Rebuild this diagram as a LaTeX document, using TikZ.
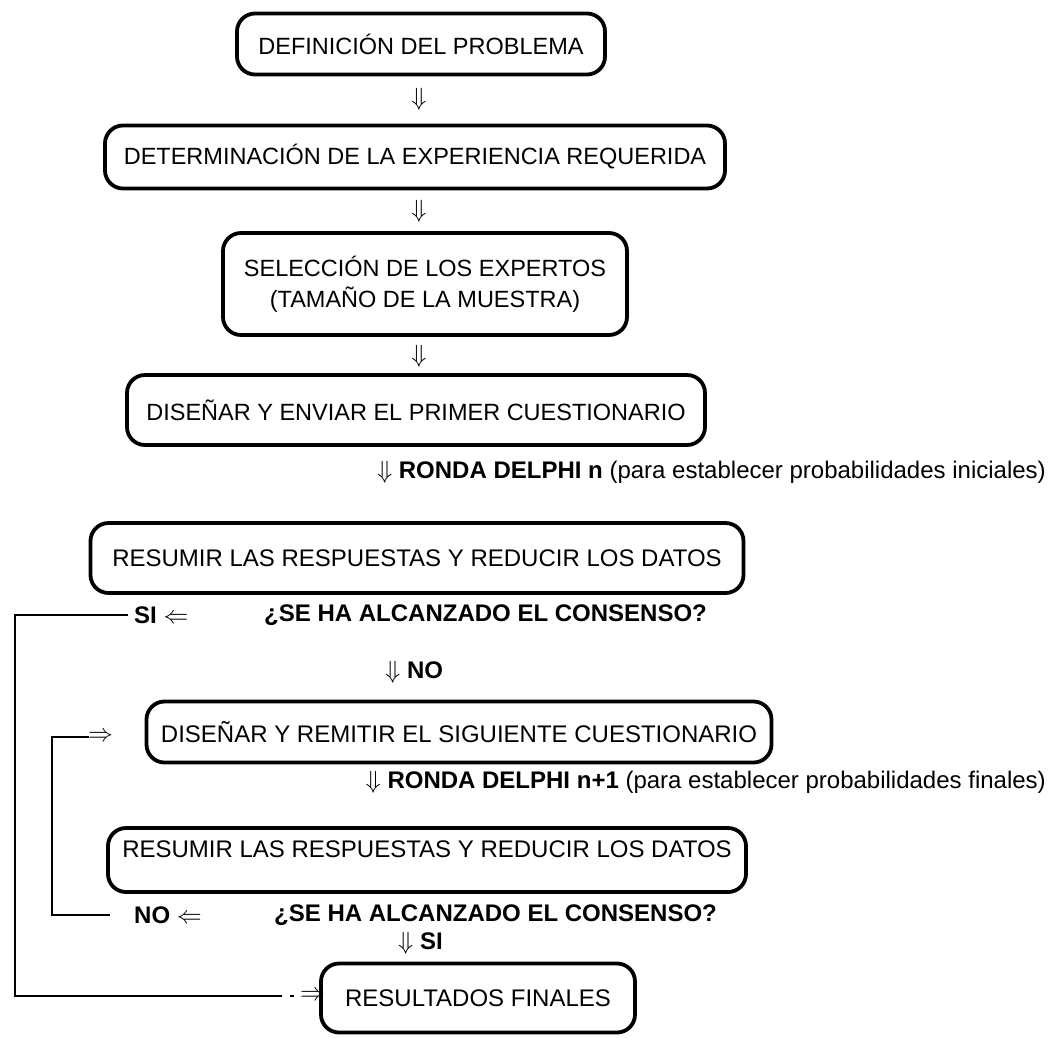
\documentclass[tikz,border=0pt]{standalone}
\usepackage{fontspec}
\setmainfont{Liberation Sans}
\begin{document}
\begin{tikzpicture}[x=1pt,y=-1pt,
  box/.style={draw, line width=3.8pt, rounded corners=18pt, align=center, inner sep=0pt},
  up/.style={font=\fontsize{23.5}{31}\selectfont},
  lo/.style={font=\fontsize{24}{28}\selectfont},
  lbl/.style={inner sep=0pt, font=\fontsize{24}{28}\selectfont},
  conn/.style={line width=1.4pt}]
\useasboundingbox (0,0) rectangle (1059,1037);
% upper column
\node[box,up,minimum width=368,minimum height=61] (b1) at (421,44) {DEFINICIÓN DEL PROBLEMA};
\node[lbl] (a1) at (419,99) {$\Downarrow$};
\node[box,up,minimum width=620,minimum height=63] (b2) at (415,157) {DETERMINACIÓN DE LA EXPERIENCIA REQUERIDA};
\node[lbl] (a2) at (419,211) {$\Downarrow$};
\node[box,up,minimum width=404,minimum height=102] (b3) at (425,284) {SELECCIÓN DE LOS EXPERTOS\\(TAMAÑO DE LA MUESTRA)};
\node[lbl] (a3) at (419,356) {$\Downarrow$};
\node[box,up,minimum width=578,minimum height=70] (b4) at (416,410) {DISEÑAR Y ENVIAR EL PRIMER CUESTIONARIO};
\node[lbl,anchor=east] (r1) at (1046,472) {$\Downarrow$ \textbf{RONDA DELPHI n} (para establecer probabilidades iniciales)};
% first consensus
\node[box,lo,minimum width=653,minimum height=70] (b5) at (417,558) {RESUMIR LAS RESPUESTAS Y REDUCIR LOS DATOS};
\node[lbl,anchor=west] (si1) at (134,615) {\textbf{SI} $\Leftarrow$};
\node[lbl,anchor=west] (c1) at (264,615) {\textbf{¿SE HA ALCANZADO EL CONSENSO?}};
\node[lbl,anchor=west] (a4) at (385,672) {$\Downarrow$ \textbf{NO}};
\node[box,lo,minimum width=625,minimum height=61] (b6) at (459,732) {DISEÑAR Y REMITIR EL SIGUIENTE CUESTIONARIO};
\node[lbl,anchor=west] (ra2) at (88,737) {$\Rightarrow$};
\node[lbl,anchor=east] (r2) at (1046,782) {$\Downarrow$ \textbf{RONDA DELPHI n+1} (para establecer probabilidades finales)};
% second consensus
\node[box,lo,minimum width=638,minimum height=64,text depth=22] (b7) at (427,860) {RESUMIR LAS RESPUESTAS Y REDUCIR LOS DATOS};
\node[lbl,anchor=west] (no2) at (134,915) {\textbf{NO} $\Leftarrow$};
\node[lbl,anchor=west] (c2) at (274,915) {\textbf{¿SE HA ALCANZADO EL CONSENSO?}};
\node[lbl,anchor=west] (a5) at (398,943) {$\Downarrow$ \textbf{SI}};
\node[box,lo,minimum width=314,minimum height=69] (b8) at (478,998) {RESULTADOS FINALES};
\node[lbl,anchor=west] (ra1) at (300,996) {$\Rightarrow$};
% loops
\coordinate (L1) at (15,615);
\coordinate (L2) at (52,915);
\draw[conn] ([xshift=-6]si1.west) -- (L1) |- ([xshift=-18]ra1.west);
\draw[conn] ([xshift=-10]ra1.west) -- ([xshift=-6]ra1.west);
\draw[conn] ([xshift=-24]no2.west) -- (L2) |- ([xshift=1]ra2.west);
\end{tikzpicture}
\end{document}
